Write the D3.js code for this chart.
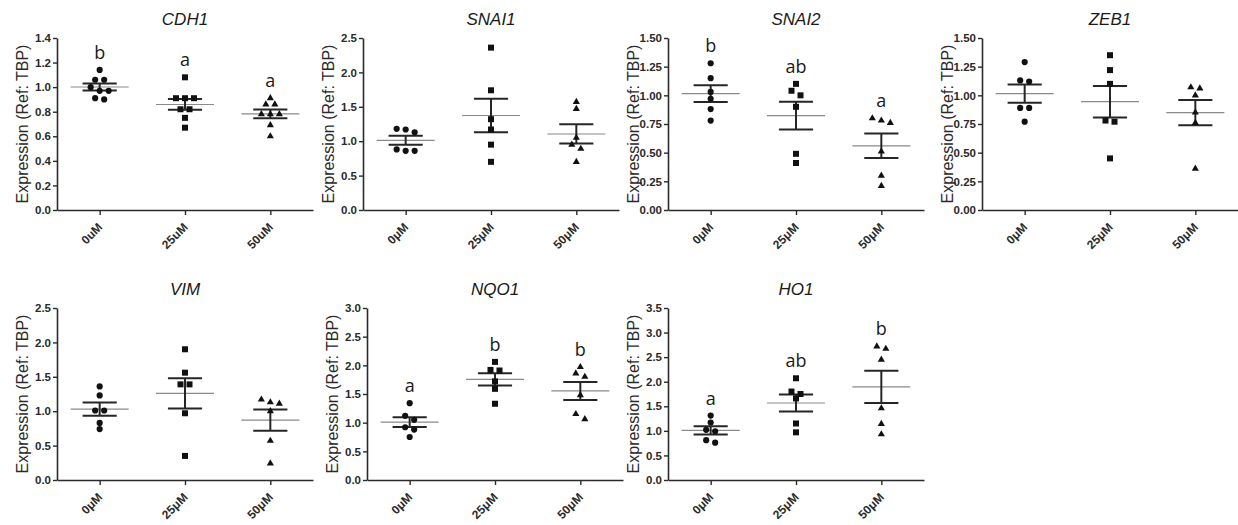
<!DOCTYPE html>
<html>
<head>
<meta charset="utf-8">
<script src="https://cdnjs.cloudflare.com/ajax/libs/d3/7.8.5/d3.min.js"></script>
<style>
body { margin: 0; background: #fff; }
</style>
</head>
<body>
<svg width="1238" height="525"></svg>
<script>
var genes = ["CDH1", "SNAI1", "SNAI2", "ZEB1", "VIM", "NQO1", "HO1"];
var dosesU = ["0uM", "25uM", "50uM"];
var dosesMu = ["0μM", "25μM", "50μM"];
var yMaxes = [1.4, 2.5, 1.5, 1.5, 2.5, 3.0, 3.5];
var ySteps = [0.2, 0.5, 0.25, 0.25, 0.5, 0.5, 0.5];

// one array per dose group
var cdh1 = [[1.14, 1.06, 1.06, 1.00, 0.97, 0.97, 0.91, 0.90],
            [1.08, 0.91, 0.91, 0.91, 0.82, 0.82, 0.75, 0.67],
            [0.91, 0.86, 0.86, 0.78, 0.78, 0.78, 0.69, 0.60]];
var snai1 = [[1.18, 1.17, 1.13, 0.88, 0.86, 0.86],
             [2.36, 1.74, 1.32, 1.17, 0.95, 0.70],
             [1.57, 1.47, 1.05, 0.95, 0.89, 0.70]];
var snai2 = [[1.28, 1.15, 1.03, 0.97, 0.88, 0.78],
             [1.10, 1.04, 1.00, 0.90, 0.49, 0.41],
             [0.80, 0.78, 0.76, 0.51, 0.30, 0.21]];
var zeb1 = [[1.29, 1.13, 1.12, 0.89, 0.89, 0.77],
            [1.35, 1.22, 1.10, 0.78, 0.77, 0.45],
            [1.07, 1.06, 1.00, 0.85, 0.76, 0.36]];
var vim = [[1.36, 1.23, 1.01, 1.01, 0.83, 0.74],
           [1.90, 1.56, 1.39, 1.39, 0.97, 0.35],
           [1.17, 1.13, 1.11, 1.00, 0.57, 0.24]];
var nqo1 = [[1.34, 1.12, 1.05, 0.92, 0.88, 0.75],
            [2.06, 1.92, 1.91, 1.72, 1.59, 1.33],
            [1.97, 1.86, 1.80, 1.48, 1.15, 1.06]];
var ho1 = [[1.31, 1.17, 1.02, 0.99, 0.81, 0.76],
           [2.07, 1.80, 1.75, 1.66, 1.15, 0.97],
           [2.72, 2.67, 2.45, 1.46, 1.14, 0.93]];

var cdh1Letters = ["b", "a", "a"];
var snai2Letters = ["b", "ab", "a"];
var nqo1Letters = ["a", "b", "b"];
var ho1Letters = ["a", "ab", "b"];

var values = [cdh1, snai1, snai2, zeb1, vim, nqo1, ho1];
var letters = [cdh1Letters, [], snai2Letters, [], [], nqo1Letters, ho1Letters];
var categories = [dosesU, dosesMu, dosesMu, dosesMu, dosesMu, dosesMu, dosesMu];

var rowTops = [38, 308];
var colLefts = [[57, 363, 668, 982], [57, 367, 668]];
var plotW = 256, plotH = 172;
var shapes = [d3.symbolCircle, d3.symbolSquare, d3.symbolTriangle];
var sizes = [30, 36, 22];

var svg = d3.select("svg");

genes.forEach(function (gene, i) {
    var row = i < 4 ? 0 : 1;
    var col = i % 4;
    var g = svg.append("g")
        .attr("transform", "translate(" + colLefts[row][col] + "," + rowTops[row] + ")");

    var x = d3.scalePoint().domain(categories[i]).range([0, plotW]).padding(0.5);
    var y = d3.scaleLinear().domain([0, yMaxes[i]]).range([plotH, 0]);
    var step = x.step();
    var fmt = ySteps[i] == 0.25 ? ".2f" : ".1f";

    // axes
    var ya = g.append("g")
        .call(d3.axisLeft(y)
            .tickValues(d3.range(0, yMaxes[i] + 1e-9, ySteps[i]))
            .tickFormat(d3.format(fmt))
            .tickSize(4).tickPadding(2).tickSizeOuter(0));
    var xa = g.append("g")
        .attr("transform", "translate(0," + plotH + ")")
        .call(d3.axisBottom(x).tickSize(5).tickSizeOuter(0));
    [ya, xa].forEach(function (a) {
        a.select(".domain").attr("stroke", "#2a2a2a").attr("stroke-width", 1.6);
        a.selectAll(".tick line").attr("stroke", "#2a2a2a").attr("stroke-width", 1.4);
        a.selectAll("text")
            .attr("fill", "#2a2a2a")
            .style("font-family", "'Liberation Sans', Arial, sans-serif")
            .style("font-size", "11.5px")
            .style("font-weight", "bold");
    });
    xa.selectAll("text")
        .attr("y", null).attr("dy", null)
        .attr("text-anchor", "end")
        .style("font-size", "12px")
        .attr("transform", "translate(3,18) rotate(-45)");

    // y label
    g.append("text")
        .attr("transform", "translate(-29," + plotH / 2 + ") rotate(-90)")
        .attr("text-anchor", "middle")
        .style("font-family", "'Liberation Sans', Arial, sans-serif")
        .style("font-size", "16px")
        .attr("fill", "#2a2a2a")
        .text("Expression (Ref: TBP)");

    // title
    g.append("text")
        .attr("x", plotW / 2).attr("y", -13)
        .attr("text-anchor", "middle")
        .style("font-family", "'Liberation Sans', Arial, sans-serif")
        .style("font-size", "17px")
        .style("font-style", "italic")
        .attr("fill", "#1a1a1a")
        .text(gene);

    values[i].forEach(function (vals, k) {
        var cx = x(categories[i][k]);
        var mean = d3.mean(vals);
        var sem = d3.deviation(vals) / Math.sqrt(vals.length);

        // mean line
        g.append("line")
            .attr("x1", cx - step * 0.34).attr("x2", cx + step * 0.34)
            .attr("y1", y(mean)).attr("y2", y(mean))
            .attr("stroke", "#8a8a8a").attr("stroke-width", 1.2);

        // SEM bars
        var eb = g.append("g").attr("stroke", "#262626").attr("stroke-width", 2);
        eb.append("line").attr("x1", cx).attr("x2", cx)
            .attr("y1", y(mean + sem)).attr("y2", y(mean - sem));
        [mean + sem, mean - sem].forEach(function (v) {
            eb.append("line")
                .attr("x1", cx - step * 0.2).attr("x2", cx + step * 0.2)
                .attr("y1", y(v)).attr("y2", y(v));
        });

        // points, spread sideways when they sit at the same height
        var sorted = vals.slice().sort(function (a, b) { return b - a; });
        var rows = [];
        sorted.forEach(function (v) {
            var r = rows[rows.length - 1];
            if (r && Math.abs(y(r[0]) - y(v)) < 6) r.push(v); else rows.push([v]);
        });
        var pts = [];
        rows.forEach(function (r) {
            r.forEach(function (v, j) { pts.push({ v: v, dx: (j - (r.length - 1) / 2) * 9 }); });
        });
        g.selectAll(null).data(pts).enter().append("path")
            .attr("d", d3.symbol().type(shapes[k]).size(sizes[k]))
            .attr("transform", function (d) { return "translate(" + (cx + d.dx) + "," + y(d.v) + ")"; })
            .attr("fill", "#111");

        // significance letters
        if (letters[i][k]) {
            g.append("text")
                .attr("x", cx).attr("y", y(d3.max(vals)) - 11)
                .attr("text-anchor", "middle")
                .style("font-family", "'Open Sans', sans-serif")
                .style("font-size", "18px")
                .attr("fill", "#1a1a1a")
                .text(letters[i][k]);
        }
    });
});
</script>
</body>
</html>
